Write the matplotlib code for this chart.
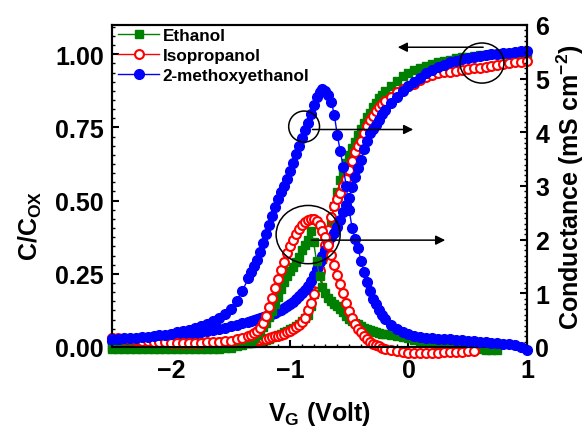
import numpy as np
import matplotlib
matplotlib.use("Agg")
import matplotlib.pyplot as plt
from matplotlib.patches import Ellipse
from matplotlib.ticker import MultipleLocator, AutoMinorLocator

plt.rcParams['font.family'] = 'Liberation Sans'
plt.rcParams['font.weight'] = 'bold'
plt.rcParams['mathtext.fontset'] = 'custom'
plt.rcParams['mathtext.rm'] = 'Liberation Sans:bold'
plt.rcParams['mathtext.it'] = 'Liberation Sans:bold'
plt.rcParams['mathtext.bf'] = 'Liberation Sans:bold'
plt.rcParams['mathtext.default'] = 'rm'

nan = np.nan

# gate voltage (V)
vg = ([-2.50, -2.45, -2.40, -2.35, -2.30, -2.25, -2.20, -2.15, -2.10, -2.05, -2.00, -1.95,
       -1.90, -1.85, -1.80, -1.75, -1.70, -1.65, -1.60, -1.55, -1.50, -1.45, -1.40, -1.35]
      + [-1.325, -1.300, -1.275, -1.250, -1.225, -1.200, -1.175, -1.150, -1.125, -1.100,
         -1.075, -1.050, -1.025, -1.000, -0.975, -0.950, -0.925, -0.900, -0.875, -0.850,
         -0.825, -0.800, -0.775, -0.750, -0.725, -0.700, -0.675, -0.650, -0.625, -0.600,
         -0.575, -0.550, -0.525, -0.500, -0.475, -0.450, -0.425, -0.400, -0.375, -0.350,
         -0.325, -0.300, -0.275, -0.250, -0.225, -0.200]
      + [-0.15, -0.10, -0.05, 0.00, 0.05, 0.10, 0.15, 0.20, 0.25, 0.30, 0.35, 0.40,
         0.45, 0.50, 0.55, 0.60, 0.65, 0.70, 0.75, 0.80, 0.85, 0.90, 0.95, 1.00])

# C/Cox
c_eth = ([0.000, 0.000, 0.000, 0.001, 0.001, 0.002, 0.002, 0.003, 0.003, 0.004, 0.004, 0.005,
          0.005, 0.006, 0.006, 0.007, 0.007, 0.008, 0.009, 0.010, 0.011, 0.012, 0.013, 0.014]
         + [0.015, 0.016, 0.018, 0.020, 0.022, 0.025, 0.029, 0.033, 0.037, 0.041,
            0.045, 0.050, 0.055, 0.060, 0.066, 0.073, 0.080, 0.088, 0.098, 0.110,
            0.140, 0.180, 0.220, 0.260, 0.300, 0.340, 0.380, 0.430, 0.480, 0.530,
            0.570, 0.600, 0.630, 0.655, 0.680, 0.700, 0.725, 0.745, 0.765, 0.785,
            0.800, 0.820, 0.835, 0.850, 0.862, 0.875]
         + [0.893, 0.910, 0.925, 0.935, 0.945, 0.953, 0.960, 0.967, 0.973, 0.978, 0.982, 0.986,
            0.989, 0.992, 0.994, 0.996, 0.998, 1.000, 1.001, 1.002, 1.003, 1.004, 1.005, 1.006])
c_ipa = ([0.030, 0.025, 0.020, 0.018, 0.016, 0.015, 0.014, 0.013, 0.013, 0.012, 0.012, 0.012,
          0.012, 0.013, 0.013, 0.014, 0.014, 0.015, 0.016, 0.017, 0.018, 0.019, 0.020, 0.021]
         + [0.022, 0.023, 0.024, 0.025, 0.027, 0.029, 0.031, 0.033, 0.036, 0.039,
            0.042, 0.046, 0.050, 0.055, 0.061, 0.068, 0.076, 0.087, 0.100, 0.125,
            0.150, 0.180, 0.220, 0.260, 0.300, 0.350, 0.400, 0.445, 0.480, 0.505,
            0.525, 0.550, 0.575, 0.605, 0.635, 0.665, 0.685, 0.705, 0.730, 0.755,
            0.775, 0.790, 0.805, 0.820, 0.830, 0.840]
         + [0.855, 0.870, 0.880, 0.890, 0.900, 0.912, 0.922, 0.930, 0.935, 0.938, 0.941, 0.944,
            0.947, 0.950, 0.952, 0.954, 0.957, 0.960, 0.963, 0.966, 0.969, 0.972, 0.974, 0.976])
c_mxe = ([0.020, 0.021, 0.022, 0.023, 0.024, 0.025, 0.027, 0.028, 0.030, 0.032, 0.034, 0.037,
          0.040, 0.043, 0.046, 0.050, 0.053, 0.057, 0.061, 0.066, 0.071, 0.076, 0.081, 0.086]
         + [0.089, 0.092, 0.095, 0.098, 0.101, 0.105, 0.109, 0.113, 0.117, 0.122,
            0.127, 0.133, 0.139, 0.146, 0.154, 0.163, 0.173, 0.184, 0.196, 0.210,
            0.225, 0.245, 0.265, 0.290, 0.310, 0.330, 0.355, 0.375, 0.390, 0.410,
            0.435, 0.460, 0.485, 0.510, 0.545, 0.580, 0.610, 0.640, 0.675, 0.705,
            0.730, 0.745, 0.760, 0.775, 0.795, 0.810]
         + [0.835, 0.855, 0.875, 0.890, 0.905, 0.920, 0.935, 0.945, 0.955, 0.965, 0.972, 0.978,
            0.983, 0.988, 0.992, 0.995, 0.998, 1.000, 1.002, 1.004, 1.006, 1.008, 1.010, 1.012])

# conductance (mS cm-2)
g_eth = ([-0.03, -0.03, -0.03, -0.03, -0.03, -0.03, -0.03, -0.03, -0.03, -0.03, -0.03, -0.03,
          -0.03, -0.03, -0.03, -0.03, -0.03, -0.03, -0.03, -0.02, -0.01, 0.01, 0.04, 0.08]
         + [0.12, 0.17, 0.23, 0.30, 0.37, 0.44, 0.55, 0.67, 0.80, 0.93,
            1.08, 1.22, 1.32, 1.41, 1.49, 1.58, 1.68, 1.80, 1.90, 2.00,
            2.17, 1.95, 1.60, 1.32, 1.12, 1.00, 0.92, 0.86, 0.80, 0.76,
            0.71, 0.65, 0.58, 0.53, 0.49, 0.45, 0.42, 0.39, 0.36, 0.33,
            0.31, 0.29, 0.27, 0.26, 0.25, 0.24]
         + [0.22, 0.20, 0.18, 0.16, 0.13, 0.11, 0.09, 0.07, 0.05, 0.03, 0.02, 0.00,
            -0.01, -0.02, -0.03, -0.04, -0.05, -0.05, -0.05, nan, nan, nan, nan, nan])
g_ipa = ([0.17, 0.16, 0.15, 0.14, 0.13, 0.12, 0.11, 0.10, 0.09, 0.09, 0.08, 0.08,
          0.08, 0.08, 0.08, 0.08, 0.085, 0.09, 0.10, 0.11, 0.12, 0.14, 0.16, 0.20]
         + [0.23, 0.26, 0.30, 0.36, 0.45, 0.58, 0.74, 0.92, 1.10, 1.27,
            1.43, 1.59, 1.75, 1.88, 2.00, 2.10, 2.20, 2.27, 2.33, 2.37,
            2.39, 2.38, 2.34, 2.27, 2.17, 2.05, 1.90, 1.72, 1.52, 1.34,
            1.17, 1.00, 0.82, 0.67, 0.54, 0.43, 0.34, 0.27, 0.20, 0.14,
            0.10, 0.06, 0.03, 0.01, -0.01, -0.03]
         + [-0.06, -0.08, -0.10, -0.11, -0.12, -0.12, -0.12, -0.11, -0.11, -0.10, -0.10, -0.09,
            -0.09, -0.08, -0.08, nan, nan, nan, nan, nan, nan, nan, nan, nan])
g_mxe = ([0.15, 0.15, 0.16, 0.16, 0.17, 0.18, 0.19, 0.20, 0.22, 0.23, 0.25, 0.27,
          0.29, 0.32, 0.35, 0.39, 0.43, 0.48, 0.54, 0.62, 0.71, 0.85, 1.05, 1.28]
         + [1.39, 1.50, 1.63, 1.77, 1.93, 2.10, 2.28, 2.45, 2.60, 2.75,
            2.88, 3.00, 3.13, 3.27, 3.43, 3.60, 3.75, 3.90, 4.04, 4.18,
            4.34, 4.50, 4.66, 4.76, 4.80, 4.77, 4.70, 4.57, 4.32, 3.95,
            3.65, 3.35, 3.00, 2.55, 2.22, 2.02, 1.85, 1.60, 1.40, 1.22,
            1.05, 0.90, 0.80, 0.69, 0.60, 0.52]
         + [0.41, 0.33, 0.28, 0.24, 0.21, 0.19, 0.17, 0.16, 0.15, 0.145, 0.14, 0.13,
            0.125, 0.12, 0.11, 0.10, 0.09, 0.08, 0.07, 0.06, 0.05, 0.03, 0.00, -0.06])

labels = ["Ethanol", "Isopropanol", "2-methoxyethanol"]

fig = plt.figure(figsize=(5.88, 4.31), dpi=100)
ax = fig.add_axes([0.1905, 0.1926, 0.7058, 0.7471])
ax2 = ax.twinx()

eth_style = dict(color='green', marker='s', ms=5.2, lw=1, clip_on=False)
ipa_style = dict(color='red', marker='o', ms=6.4, mew=1.5, mfc='white', lw=1, clip_on=False)
mxe_style = dict(color='blue', marker='o', ms=7, lw=1, clip_on=False)

ax.plot(vg, c_eth, zorder=1, **eth_style)
ax.plot(vg, c_ipa, zorder=2, **ipa_style)
ax.plot(vg, c_mxe, zorder=3, **mxe_style)

ax2.plot(vg, g_eth, zorder=1, label=labels[0], **eth_style)
ax2.plot(vg, g_ipa, zorder=2, label=labels[1], **ipa_style)
ax2.plot(vg, g_mxe, zorder=3, label=labels[2], **mxe_style)

ax.set_xlim(-2.5, 1.0)
ax.set_ylim(0, 1.1)
ax2.set_ylim(0, 6)

ax.xaxis.set_major_locator(MultipleLocator(1))
ax.xaxis.set_minor_locator(AutoMinorLocator(10))
ax.yaxis.set_major_locator(MultipleLocator(0.25))
ax.yaxis.set_minor_locator(AutoMinorLocator(8))
ax2.yaxis.set_major_locator(MultipleLocator(1))
ax2.yaxis.set_minor_locator(AutoMinorLocator(10))
ax.yaxis.set_major_formatter(plt.FormatStrFormatter('%.2f'))

ax.tick_params(which='both', direction='in', top=False, right=False, labelsize=18)
ax.tick_params(which='major', length=5, width=1.5)
ax.tick_params(which='minor', length=2.5, width=1)
ax.tick_params(axis='x', pad=8)
ax.tick_params(axis='y', pad=6)
ax2.tick_params(which='both', direction='in', labelsize=18, pad=6)
ax2.tick_params(which='major', length=5, width=1.5)
ax2.tick_params(which='minor', length=2.5, width=1)
for a in (ax, ax2):
    for s in a.spines.values():
        s.set_linewidth(1.5)

ax.set_xlabel('V$_G$ (Volt)', fontsize=18, fontweight='bold')
ax.set_ylabel('C/C$_{OX}$', fontsize=18, fontweight='bold')
ax2.set_ylabel('Conductance (mS cm$^{-2}$)', fontsize=18, fontweight='bold')
ax.yaxis.set_label_coords(-0.165, 0.38)
ax2.yaxis.set_label_coords(1.067, 0.5)
ax.xaxis.set_label_coords(0.5, -0.16)

# circles and arrows
circ = dict(fill=False, ec='black', lw=1.1, transform=ax.transData, zorder=5, clip_on=False)
ax2.add_patch(Ellipse((0.62, 0.97), 0.37, 0.137, **circ))
ax2.add_patch(Ellipse((-0.88, 0.753), 0.26, 0.106, **circ))
ax2.add_patch(Ellipse((-0.846, 0.384), 0.54, 0.199, **circ))
arrow = dict(arrowstyle='-|>', mutation_scale=14, lw=1.1, color='black', shrinkA=0, shrinkB=0)
ax2.annotate('', xy=(-0.09, 1.024), xytext=(0.63, 1.024),
             xycoords=ax.transData, textcoords=ax.transData, arrowprops=arrow, zorder=5)
ax2.annotate('', xy=(0.04, 0.743), xytext=(-0.81, 0.743),
             xycoords=ax.transData, textcoords=ax.transData, arrowprops=arrow, zorder=5)
ax2.annotate('', xy=(0.31, 0.365), xytext=(-0.82, 0.365),
             xycoords=ax.transData, textcoords=ax.transData, arrowprops=arrow, zorder=5)

leg = ax2.legend(loc='upper left', bbox_to_anchor=(0.015, 0.99), frameon=False,
                 prop={'size': 12.3, 'weight': 'bold'}, handlelength=2.4,
                 handletextpad=0.2, labelspacing=0.3, borderpad=0, borderaxespad=0)
leg.set_zorder(10)

plt.savefig("out.png", dpi=100)
